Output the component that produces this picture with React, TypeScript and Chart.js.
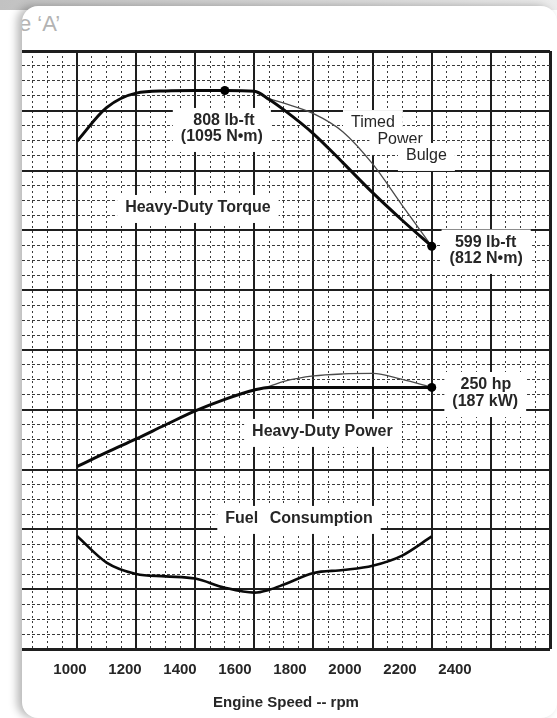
import React, { useEffect, useRef } from 'react';
import { Chart, registerables } from 'chart.js';

Chart.register(...registerables);

// ---- data ----
const RPM = [1000, 1100, 1200, 1300, 1400, 1500, 1600, 1650, 1700, 1800, 1900, 2000, 2100, 2200];
const TORQUE_LBFT = [740, 785, 804.5, 807.5, 808, 808, 807, 796, 782, 750, 711, 671, 634, 599];
const POWER_HP = [144, 163, 181, 200, 218.5, 234, 246.5, 250, 250, 250, 250, 250, 250, 250];
const FUEL_REL = [7.56, 5.78, 5.02, 4.86, 4.71, 4.1, 3.77, 3.96, 4.31, 5.08, 5.28, 5.57, 6.25, 7.53];

const BULGE_RPM = [1600, 1650, 1700, 1800, 1900, 2000, 2100, 2200];
const BULGE_TORQUE_LBFT = [807, 797, 791, 777, 752.5, 709.5, 654, 599];
const BULGE_POWER_HP = [246.5, 251.5, 258, 265.3, 268, 268.6, 260.6, 250];

const TORQUE_MARK_RPM = [1500, 2200];
const POWER_MARK_RPM = [2200];

const X_TICK_LABELS = [1000, 1200, 1400, 1600, 1800, 2000, 2200, 2400];

// axis ranges and grid spacing
const X_MIN = 814;
const X_MAX = 2600;
const X_MAJOR_STEP = 200;
const X_MINOR_STEP = 50;
const XLABEL_MIN = 825.5;
const XLABEL_MAX = 2745.5;
const GRID_MAX = 40;
const Y_MAJOR_STEP = 4;
const TORQUE_MIN = 59;
const TORQUE_MAX = 861;
const POWER_MIN = -100;
const POWER_MAX = 700;

const range = (from: number, to: number, step: number) => {
  const out: number[] = [];
  for (let v = from; v <= to + 1e-9; v += step) out.push(v);
  return out;
};
const X_MAJOR = range(1000, X_MAX, X_MAJOR_STEP);
const X_MINOR = range(850, X_MAX - X_MINOR_STEP, X_MINOR_STEP).filter((v) => v % X_MAJOR_STEP !== 0);
const Y_MAJOR = range(0, GRID_MAX, Y_MAJOR_STEP);
const Y_MINOR = range(1, GRID_MAX - 1, 1).filter((v) => v % Y_MAJOR_STEP !== 0);

// text annotations (positioned in rpm / grid units)
type AnnLine = { text: string; rpm: number; level: number };
type Ann = { lines: AnnLine[]; bold: boolean; spacing?: number };
const ANNOTATIONS: Ann[] = [
  { lines: [{ text: '808 lb-ft', rpm: 1497, level: 35.32 }, { text: '(1095 N•m)', rpm: 1490, level: 34.25 }], bold: true },
  { lines: [{ text: 'Heavy-Duty Torque', rpm: 1409, level: 29.5 }], bold: true },
  { lines: [{ text: 'Timed', rpm: 2001, level: 35.18 }], bold: false },
  { lines: [{ text: 'Power', rpm: 2093, level: 34.05 }], bold: false },
  { lines: [{ text: 'Bulge', rpm: 2182, level: 32.98 }], bold: false },
  { lines: [{ text: '599 lb-ft', rpm: 2382, level: 27.19 }, { text: '(812 N•m)', rpm: 2384, level: 26.09 }], bold: true },
  { lines: [{ text: '250 hp', rpm: 2383, level: 17.66 }, { text: '(187 kW)', rpm: 2381, level: 16.52 }], bold: true },
  { lines: [{ text: 'Heavy-Duty Power', rpm: 1830, level: 14.52 }], bold: true },
  { lines: [{ text: 'Fuel Consumption', rpm: 1751, level: 8.7 }], bold: true, spacing: 7 },
];

const FONT = '"Liberation Sans", Arial, Helvetica, sans-serif';
const INK = '#262626';

const annotationPlugin = {
  id: 'curveLabels',
  beforeDatasetsDraw(chart: any) {
    const ctx = chart.ctx as CanvasRenderingContext2D;
    const xs = chart.scales.x;
    const ys = chart.scales.y;
    const size = 16;
    ctx.save();
    for (const ann of ANNOTATIONS) {
      ctx.font = `${ann.bold ? 'bold ' : ''}${size}px ${FONT}`;
      (ctx as any).wordSpacing = ann.spacing ? `${ann.spacing}px` : '0px';
      const items = ann.lines.map((l) => {
        const w = ctx.measureText(l.text).width;
        return { l, w, x: xs.getPixelForValue(l.rpm), y: ys.getPixelForValue(l.level) };
      });
      let left = Infinity, right = -Infinity, top = Infinity, bottom = -Infinity;
      for (const it of items) {
        left = Math.min(left, it.x - it.w / 2 - 8);
        right = Math.max(right, it.x + it.w / 2 + 8);
        top = Math.min(top, it.y - size / 2 - 5);
        bottom = Math.max(bottom, it.y + size / 2 + 7);
      }
      ctx.fillStyle = '#ffffff';
      ctx.fillRect(left, top, right - left, bottom - top);
      ctx.fillStyle = INK;
      ctx.textAlign = 'center';
      ctx.textBaseline = 'middle';
      for (const it of items) ctx.fillText(it.l.text, it.x, it.y);
      (ctx as any).wordSpacing = '0px';
    }
    ctx.restore();
  },
};

const setTicks = (values: number[]) => (axis: any) => {
  axis.ticks = values.map((v) => ({ value: v }));
};

export default function App() {
  const canvasRef = useRef<HTMLCanvasElement | null>(null);

  useEffect(() => {
    const canvas = canvasRef.current;
    if (!canvas) return;
    const markRadius = (list: number[], xs: number[]) => (c: any) =>
      list.includes(xs[c.dataIndex]) ? 4.5 : 0;

    const chart = new Chart(canvas, {
      type: 'line',
      data: {
        datasets: [
          {
            label: 'Heavy-Duty Torque',
            data: RPM.map((r, i) => ({ x: r, y: TORQUE_LBFT[i] })),
            xAxisID: 'x',
            yAxisID: 'yT',
            borderColor: '#0a0a0a',
            borderWidth: 3,
            pointRadius: markRadius(TORQUE_MARK_RPM, RPM),
            pointBackgroundColor: '#000',
            pointBorderWidth: 0,
            cubicInterpolationMode: 'monotone',
            order: 1,
          },
          {
            label: 'Heavy-Duty Power',
            data: RPM.map((r, i) => ({ x: r, y: POWER_HP[i] })),
            xAxisID: 'x',
            yAxisID: 'yP',
            borderColor: '#0a0a0a',
            borderWidth: 3,
            pointRadius: markRadius(POWER_MARK_RPM, RPM),
            pointBackgroundColor: '#000',
            pointBorderWidth: 0,
            cubicInterpolationMode: 'monotone',
            order: 1,
          },
          {
            label: 'Fuel Consumption',
            data: RPM.map((r, i) => ({ x: r, y: FUEL_REL[i] })),
            xAxisID: 'x',
            yAxisID: 'y',
            borderColor: '#0a0a0a',
            borderWidth: 2.6,
            pointRadius: 0,
            cubicInterpolationMode: 'monotone',
            order: 1,
          },
          {
            label: 'Timed Power Bulge (torque)',
            data: BULGE_RPM.map((r, i) => ({ x: r, y: BULGE_TORQUE_LBFT[i] })),
            xAxisID: 'x',
            yAxisID: 'yT',
            borderColor: '#4a4a4a',
            borderWidth: 1.3,
            pointRadius: 0,
            cubicInterpolationMode: 'monotone',
            order: 2,
          },
          {
            label: 'Timed Power Bulge (power)',
            data: BULGE_RPM.map((r, i) => ({ x: r, y: BULGE_POWER_HP[i] })),
            xAxisID: 'x',
            yAxisID: 'yP',
            borderColor: '#4a4a4a',
            borderWidth: 1.3,
            pointRadius: 0,
            cubicInterpolationMode: 'monotone',
            order: 2,
          },
        ],
      },
      options: {
        animation: false,
        responsive: false,
        devicePixelRatio: 1,
        events: [],
        layout: { padding: { left: 22, right: 7, top: 51, bottom: 0 } },
        plugins: { legend: { display: false }, tooltip: { enabled: false } },
        scales: {
          x: {
            type: 'linear',
            position: 'bottom',
            min: X_MIN,
            max: X_MAX,
            afterBuildTicks: setTicks(X_MAJOR),
            ticks: { display: false },
            grid: {
              color: '#1e1e1e',
              lineWidth: (c: any) => (c.tick && c.tick.value === X_MAX ? 3 : 2),
              drawTicks: false,
            },
            border: { display: false },
          },
          xm: {
            type: 'linear',
            position: 'bottom',
            min: X_MIN,
            max: X_MAX,
            afterBuildTicks: setTicks(X_MINOR),
            ticks: { display: false },
            grid: { color: '#3a3a3a', lineWidth: 1, drawTicks: false },
            border: { display: false, dash: [2, 3] },
          },
          xl: {
            type: 'linear',
            position: 'bottom',
            min: XLABEL_MIN,
            max: XLABEL_MAX,
            afterBuildTicks: setTicks(X_TICK_LABELS),
            ticks: {
              color: INK,
              padding: 12,
              maxRotation: 0,
              autoSkip: false,
              font: { family: FONT, size: 15, weight: 'bold' },
              callback: (v: any) => String(v),
            },
            grid: { display: false, drawTicks: false },
            border: { display: false },
            title: {
              display: true,
              text: 'Engine Speed -- rpm',
              color: INK,
              font: { family: FONT, size: 15, weight: 'bold' },
              padding: { top: 3, bottom: 6 },
            },
          },
          y: {
            type: 'linear',
            position: 'left',
            min: 0,
            max: GRID_MAX,
            afterBuildTicks: setTicks(Y_MAJOR),
            ticks: { display: false },
            grid: {
              color: '#1e1e1e',
              lineWidth: (c: any) => (c.tick && (c.tick.value === 0 || c.tick.value === GRID_MAX) ? 3 : 2),
              drawTicks: false,
            },
            border: { display: false },
          },
          ym: {
            type: 'linear',
            position: 'left',
            min: 0,
            max: GRID_MAX,
            afterBuildTicks: setTicks(Y_MINOR),
            ticks: { display: false },
            grid: { color: '#3a3a3a', lineWidth: 1, drawTicks: false },
            border: { display: false, dash: [3, 2] },
          },
          yT: { type: 'linear', display: false, min: TORQUE_MIN, max: TORQUE_MAX },
          yP: { type: 'linear', display: false, min: POWER_MIN, max: POWER_MAX },
        },
      } as any,
      plugins: [annotationPlugin],
    });
    return () => chart.destroy();
  }, []);

  return (
    <div style={{ position: 'fixed', left: 0, top: 0, width: 557, height: 718, background: '#ffffff', overflow: 'hidden' }}>
      <div
        style={{
          position: 'absolute',
          left: 0,
          top: 0,
          width: 557,
          height: 10,
          background: 'linear-gradient(to right, #c2c2c2, #d4d4d4 45%, #e2e2e2 80%, #ececec)',
        }}
      />
      <div
        style={{
          position: 'absolute',
          left: 22,
          top: 6,
          width: 535,
          height: 712,
          background: '#ffffff',
          borderRadius: 16,
          boxShadow: '-5px 0 8px rgba(0,0,0,0.28)',
          overflow: 'hidden',
        }}
      >
        <div
          style={{
            position: 'absolute',
            left: -3,
            top: 7,
            fontFamily: FONT,
            fontSize: 22,
            lineHeight: '22px',
            color: '#b3b3b3',
            whiteSpace: 'nowrap',
          }}
        >
          e ‘A’
        </div>
      </div>
      <canvas ref={canvasRef} width={557} height={718} style={{ position: 'absolute', left: 0, top: 0 }} />
    </div>
  );
}
